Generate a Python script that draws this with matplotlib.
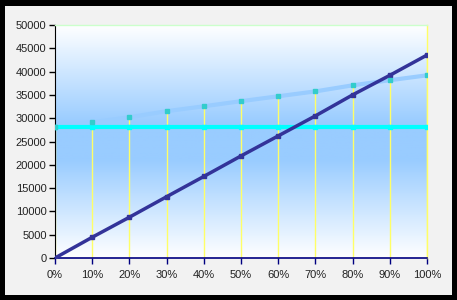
import matplotlib
matplotlib.use("Agg")
import matplotlib.pyplot as plt
import numpy as np
from matplotlib.colors import LinearSegmentedColormap
from matplotlib.patches import Rectangle
from matplotlib.ticker import FuncFormatter

x_pct = [0, 10, 20, 30, 40, 50, 60, 70, 80, 90, 100]
rising = [0, 4450, 8750, 13150, 17500, 21900, 26200, 30500, 35000, 39200, 43550]
upper = [28100, 29100, 30200, 31500, 32550, 33650, 34700, 35750, 37050, 38150, 39200]
flat = [28100] * 11
y_ticks = [0, 5000, 10000, 15000, 20000, 25000, 30000, 35000, 40000, 45000, 50000]

plt.rcParams['font.family'] = ['Liberation Sans', 'DejaVu Sans']

fig = plt.figure(figsize=(4.57, 3.00), dpi=100)
fig.patch.set_facecolor('black')
fig.patches.append(Rectangle((5/457, 5/300), 447/457, 289/300, transform=fig.transFigure,
                             facecolor='#f2f2f2', edgecolor='none', zorder=-10))

ax = fig.add_axes([55/457, 42/300, 372/457, 233/300])
ax.set_zorder(5)
ax.set_xlim(0, 100)
ax.set_ylim(0, 50000)

cmap = LinearSegmentedColormap.from_list('g', [(0, '#ffffff'), (0.42, '#99ccff'),
                                               (0.58, '#99ccff'), (1, '#ffffff')])
grad = np.linspace(0, 1, 256).reshape(-1, 1)
ax.imshow(grad, extent=[0, 100, 0, 50000], origin='lower', aspect='auto', cmap=cmap,
          zorder=0)

# drop lines
for xv, a, b in zip(x_pct, rising, upper):
    ax.plot([xv, xv], [0, max(a, b)], color='#ffff66', lw=1, zorder=1)

ax.plot(x_pct, upper, color='#99ccff', lw=3, zorder=2)
ax.plot(x_pct, upper, ls='none', marker='s', ms=3.5, color='#33cccc', zorder=5)
ax.plot(x_pct, flat, color='#00ffff', lw=3, marker='s', ms=3.5, zorder=3)
ax.plot(x_pct, rising, color='#333399', lw=2.5, marker='s', ms=3.5, zorder=4)

ax.set_xticks(x_pct)
ax.xaxis.set_major_formatter(FuncFormatter(lambda v, p: f'{int(v)}%'))
ax.set_yticks(y_ticks)
ax.tick_params(axis='both', labelsize=8, colors='#000000', labelcolor='#222222',
               length=4, width=1)
ax.tick_params(axis='x', pad=5)
ax.tick_params(axis='y', pad=2)

for s in ['top', 'right']:
    ax.spines[s].set_color('#ccffcc')
    ax.spines[s].set_linewidth(1)
ax.spines['right'].set_color('#ffff66')
ax.spines['left'].set_color('black')
ax.spines['bottom'].set_color('#000080')
ax.spines['bottom'].set_linewidth(1.2)
ax.tick_params(axis='x', color='#000080')

fig.savefig('out.png', dpi=100, facecolor=fig.get_facecolor())
